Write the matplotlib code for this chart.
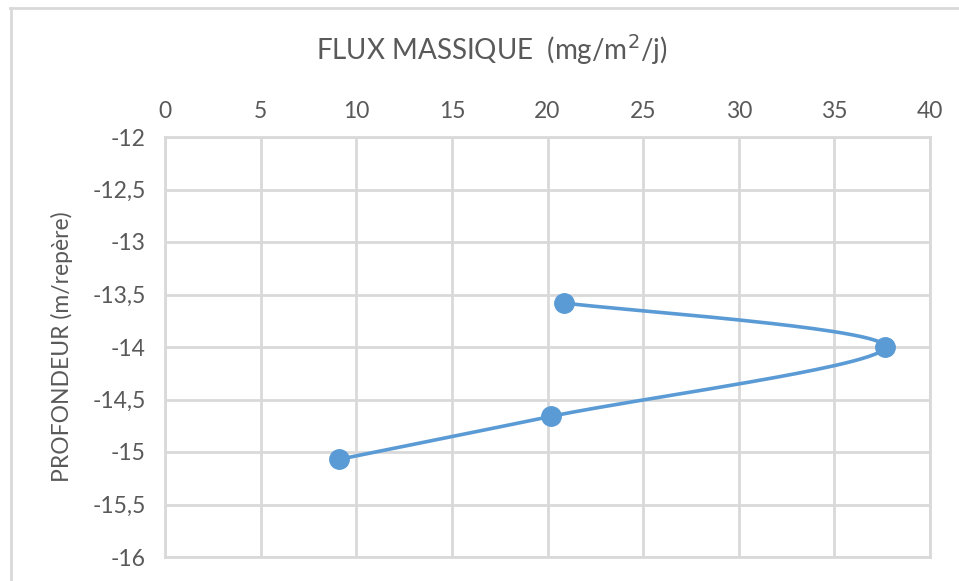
import numpy as np
import matplotlib.pyplot as plt
from matplotlib.lines import Line2D
from matplotlib.ticker import FuncFormatter

flux = [20.85, 37.65, 20.2, 9.1]
profondeur = [-13.58, -14.0, -14.66, -15.07]

x_ticks = [0, 5, 10, 15, 20, 25, 30, 35, 40]
y_ticks = [-12, -12.5, -13, -13.5, -14, -14.5, -15, -15.5, -16]

BLUE = "#5b9bd5"
GRID = "#d9d9d9"
TEXT = "#595959"

plt.rcParams["font.family"] = ["Lato", "DejaVu Sans"]


def smooth_curve(ax, xs, ys, n=60):
    """Courbe lissée façon Excel (Catmull-Rom -> Bézier), calculée en pixels."""
    pts = ax.transData.transform(np.column_stack([xs, ys]))
    pts = np.vstack([pts[0], pts, pts[-1]])
    out = []
    t = np.linspace(0, 1, n)[:, None]
    for i in range(1, len(pts) - 2):
        p0, p1, p2, p3 = pts[i - 1], pts[i], pts[i + 1], pts[i + 2]
        c1 = p1 + (p2 - p0) / 6
        c2 = p2 - (p3 - p1) / 6
        seg = ((1 - t) ** 3) * p1 + 3 * ((1 - t) ** 2) * t * c1 + 3 * (1 - t) * t ** 2 * c2 + t ** 3 * p2
        out.append(seg)
    out = np.vstack(out)
    return ax.transData.inverted().transform(out)


fig = plt.figure(figsize=(9.59, 5.81), dpi=100)
ax = fig.add_axes([165 / 959, 1 - 557 / 581, (930 - 165) / 959, (557 - 137) / 581])

ax.set_xlim(0, 40)
ax.set_ylim(-16, -12)
ax.set_xticks(x_ticks)
ax.set_yticks(y_ticks)
ax.xaxis.tick_top()
ax.yaxis.set_major_formatter(FuncFormatter(lambda v, p: f"{v:g}".replace(".", ",")))
ax.tick_params(length=0, labelsize=16.5, colors=TEXT, pad=11)
ax.tick_params(axis="y", pad=14)
ax.grid(True, color=GRID, linewidth=2)
ax.set_axisbelow(True)
for s in ax.spines.values():
    s.set_color(GRID)
    s.set_linewidth(2)

curve = smooth_curve(ax, flux, profondeur)
ax.plot(curve[:, 0], curve[:, 1], color=BLUE, linewidth=2.6, solid_capstyle="round", zorder=3)
ax.plot(flux, profondeur, "o", color=BLUE, markersize=14, zorder=4, clip_on=False)

fig.text(62 / 959, 1 - 347 / 581, "PROFONDEUR (m/repère)", rotation=90, ha="center", va="center",
         fontsize=16.5, color=TEXT)
fig.text(492 / 959, 1 - 50 / 581, "FLUX MASSIQUE  (mg/m$^2$/j)", ha="center", va="center",
         fontsize=20, color=TEXT)

# cadre du graphique
fig.add_artist(Line2D([10.5 / 959, 10.5 / 959], [0, 1 - 8 / 581], color=GRID, linewidth=2))
fig.add_artist(Line2D([10 / 959, 1], [1 - 8 / 581, 1 - 8 / 581], color=GRID, linewidth=2))

fig.savefig("out.png", dpi=100)
